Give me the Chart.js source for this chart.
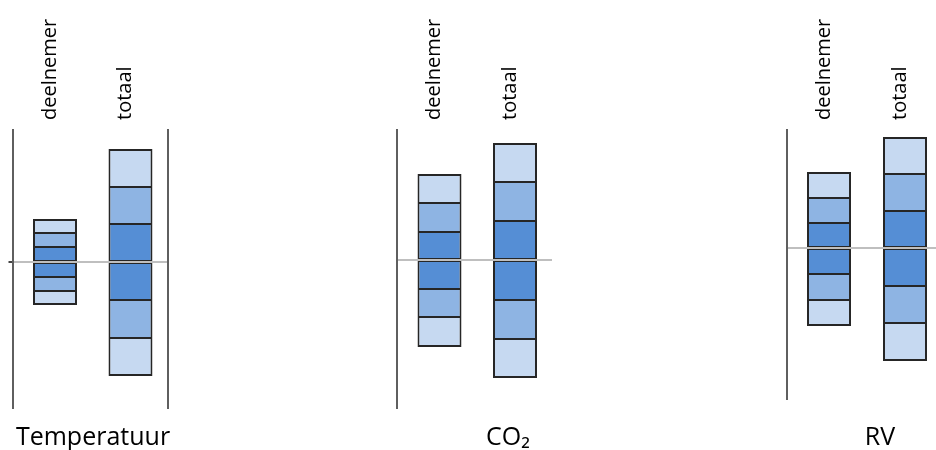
<!DOCTYPE html>
<html>
<head>
<meta charset="utf-8">
<script src="https://cdn.jsdelivr.net/npm/chart.js@4.4.1/dist/chart.umd.min.js"></script>
<style>
  body { margin: 0; background: #fff; }
  #wrap { position: relative; width: 936px; height: 450px; overflow: hidden; }
  #wrap canvas { position: absolute; top: 0; }
  .name {
    position: absolute;
    top: 423px;
    font: 25px/25px "Open Sans", sans-serif;
    color: #000;
    transform: translateX(-50%);
    white-space: nowrap;
  }
</style>
</head>
<body>
<div id="wrap"></div>
<script>
const panelNames = ["Temperatuur", "CO₂", "RV"];
const barLabels = ["deelnemer", "totaal"];

// segment edges, bottom to top; the grey reference line sits at 0
const tempDeelnemer = [-43, -29, -15, 0, 15, 29, 43];
const tempTotaal = [-114, -76, -38, 0, 38, 75, 113];
const co2Deelnemer = [-87, -57, -29, 0, 28, 57, 86];
const co2Totaal = [-118, -79, -40, 0, 39, 78, 117];
const rvDeelnemer = [-78, -52, -26, 0, 25, 50, 76];
const rvTotaal = [-113, -75, -38, 0, 37, 74, 111];

const segmentColors = ["#c6d9f1", "#8eb4e3", "#558ed5", "#558ed5", "#8eb4e3", "#c6d9f1"];
const lineColor = "#5f5f5f";

// layout of the three small charts on the page
const panels = [
  { deel: tempDeelnemer, tot: tempTotaal, left: 0, width: 180, pad: { left: 8.5, right: 12, bottom: 42 },
    yMin: -146, yMax: 132, xMin: -0.563, xMax: 1.497, rightLine: true, tickColor: "#444", nameX: 93 },
  { deel: co2Deelnemer, tot: co2Totaal, left: 380, width: 190, pad: { left: 13, right: 18, bottom: 42 },
    yMin: -148, yMax: 130, xMin: -0.563, xMax: 1.49, rightLine: false, tickColor: "rgba(0,0,0,0)", nameX: 508 },
  { deel: rvDeelnemer, tot: rvTotaal, left: 770, width: 166, pad: { left: 13, right: 0, bottom: 51 },
    yMin: -151, yMax: 118, xMin: -0.553, xMax: 1.408, rightLine: false, tickColor: "rgba(0,0,0,0)", nameX: 880 }
];

const wrap = document.getElementById("wrap");

function buildDatasets(deel, tot) {
  return segmentColors.map((color, i) => ({
    data: [
      { x: 0, y: [deel[i], deel[i + 1]] },
      { x: 1, y: [tot[i], tot[i + 1]] }
    ],
    backgroundColor: color,
    borderColor: "#262626",
    borderWidth: { left: 2, right: 2, top: i === 5 ? 2 : 1, bottom: i === 0 ? 2 : 1 },
    borderSkipped: false,
    inflateAmount: 0,
    grouped: false,
    barThickness: 44
  }));
}

panels.forEach((p, idx) => {
  const canvas = document.createElement("canvas");
  canvas.width = p.width;
  canvas.height = 450;
  canvas.style.left = p.left + "px";
  wrap.appendChild(canvas);

  const scales = {
    x: {
      type: "linear",
      position: "top",
      offset: false,
      min: p.xMin,
      max: p.xMax,
      grid: { display: false, drawTicks: false },
      border: { display: false },
      ticks: {
        stepSize: 1,
        includeBounds: false,
        autoSkip: false,
        minRotation: 90,
        maxRotation: 90,
        padding: 10,
        labelOffset: 19,
        color: "#000",
        font: { family: "Open Sans", size: 20 },
        callback: (v) => barLabels[v] ?? ""
      },
      afterFit: (scale) => {
        scale.height = 130;
      }
    },
    y: {
      min: p.yMin,
      max: p.yMax,
      z: 1,
      ticks: { display: false },
      afterBuildTicks: (axis) => {
        axis.ticks = [{ value: 0 }];
      },
      grid: { color: "#bfbfbf", lineWidth: 2, tickLength: 4, tickColor: p.tickColor },
      border: { color: lineColor, width: 2 }
    }
  };

  if (p.rightLine) {
    scales.yRight = {
      position: "right",
      ticks: { display: false },
      grid: { display: false, drawTicks: false },
      border: { color: lineColor, width: 2 }
    };
  }

  new Chart(canvas, {
    type: "bar",
    data: { datasets: buildDatasets(p.deel, p.tot) },
    options: {
      responsive: false,
      animation: false,
      layout: { padding: { top: 0, left: p.pad.left, right: p.pad.right, bottom: p.pad.bottom } },
      plugins: { legend: { display: false }, tooltip: { enabled: false } },
      scales
    }
  });

  const name = document.createElement("div");
  name.className = "name";
  name.style.left = p.nameX + "px";
  name.textContent = panelNames[idx];
  wrap.appendChild(name);
});
</script>
</body>
</html>
